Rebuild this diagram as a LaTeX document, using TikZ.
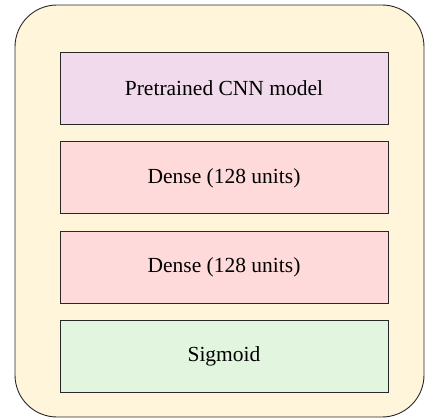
\documentclass[tikz,border=0pt]{standalone}
\usepackage{fontspec}
\setmainfont{Liberation Serif}
\usepackage{tikz}
\usepackage{xcolor}
\usetikzlibrary{positioning}
\definecolor{cnncream}{RGB}{255, 245, 218}
\definecolor{cnnpurple}{RGB}{240, 218, 236}
\definecolor{cnnpink}{RGB}{255, 218, 218}
\definecolor{cnngreen}{RGB}{226, 245, 223}
\definecolor{cnnline}{RGB}{40, 40, 40}
\tikzset{
    layerbox/.style={rectangle, draw=cnnline, line width=0.9pt, minimum width=328pt, minimum height=72pt, font=\fontsize{21.5}{25}\selectfont},
    cnnlayer/.style={layerbox, fill=cnnpurple},
    denselayer/.style={layerbox, fill=cnnpink},
    outlayer/.style={layerbox, fill=cnngreen},
    framebox/.style={rectangle, draw=cnnline, line width=0.9pt, fill=cnncream, rounded corners=42pt, minimum width=409pt, minimum height=412pt}
}

\begin{document}
\begin{tikzpicture}[x=1pt, y=1pt]
                    \useasboundingbox (0,0) rectangle (425,-419);
                    \node[framebox] (frame) at (219.5,-211) {};
                    \node[cnnlayer] (pretrained) at (224,-88) {Pretrained CNN model};
                    \node[denselayer, below=17pt of pretrained] (dense1) {Dense (128 units)};
                    \node[denselayer, below=17pt of dense1] (dense2) {Dense (128 units)};
                    \node[outlayer, below=16pt of dense2] (sigmoid) {Sigmoid};
                \end{tikzpicture}
\end{document}
